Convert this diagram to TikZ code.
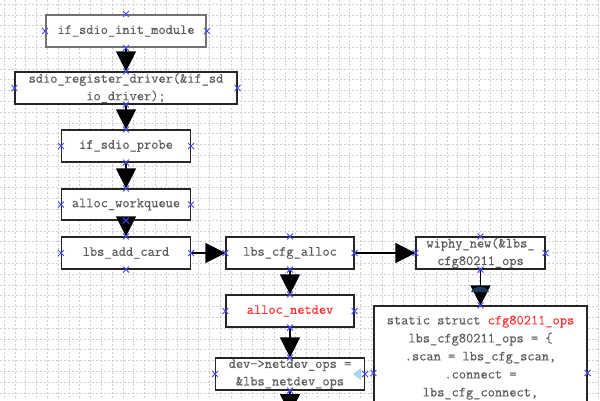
\documentclass[tikz,border=0pt]{standalone}
\usepackage{fontspec}
\newfontface\boxfont{Latin Modern Mono}[FakeBold=0.3]
\usetikzlibrary{arrows.meta,shapes.misc}

\definecolor{boxtext}{HTML}{5C5C5C}
\definecolor{hilite}{HTML}{FF3030}
\definecolor{gridgray}{HTML}{CDCDCD}
\definecolor{markblue}{HTML}{4646FF}
\definecolor{capnavy}{HTML}{1C3A5E}
\definecolor{tipblue}{HTML}{A8D4F5}

\tikzset{
  fbox/.style={draw=black!85, line width=1.2bp, fill=white, text=boxtext,
    font=\fontsize{14bp}{17.5bp}\boxfont, align=center,
    inner sep=0pt, minimum height=32bp},
  flow/.style={draw=black, line width=1.2bp, -{Triangle[length=20bp,width=20bp]}},
  xmark/.style={cross out, draw=markblue, line width=0.9bp, minimum size=5bp, inner sep=0pt},
  gridline/.style={gridgray, line width=0.6bp, dash pattern=on 2bp off 2bp},
}

\begin{document}
\begin{tikzpicture}[x=1bp, y=-1bp]
    \clip (0,0) rectangle (600,400);
    \fill[white] (0,0) rectangle (600,400);

    % background grid
    \foreach \i in {0,...,55} {
        \draw[gridline] ({4+10.8*\i},0) -- ({4+10.8*\i},400);
    }
    \foreach \j in {0,...,37} {
        \draw[gridline] (0,{4+10.8*\j}) -- (600,{4+10.8*\j});
    }

    % call chain, left column
    \node[fbox, draw=black!55, line width=2bp, minimum width=160bp] (b1) at (126,31) {if\_sdio\_init\_module};
    \node[fbox, minimum width=222bp] (b2) at (126,88) {sdio\_register\_driver(\&if\_sd\\io\_driver);};
    \node[fbox, minimum width=129bp] (b3) at (126,146) {if\_sdio\_probe};
    \node[fbox, minimum width=129bp, minimum height=31bp] (b4) at (126,204.5) {alloc\_workqueue};
    \node[fbox, minimum width=129bp] (b5) at (126,253) {lbs\_add\_card};

    % middle column
    \node[fbox, minimum width=128bp] (b6) at (290,253) {lbs\_cfg\_alloc};
    \node[fbox, minimum width=128bp, text=hilite] (b8) at (290,311) {alloc\_netdev};
    \node[fbox, minimum width=149bp] (b9) at (290,374) {dev->netdev\_ops =\\\&lbs\_netdev\_ops};
    \coordinate (below9) at (290,414);

    % right column
    \node[fbox, minimum width=129bp] (b7) at (480.5,253) {wiphy\_new(\&lbs\_\\cfg80211\_ops};
    \node[fbox, minimum width=213bp, minimum height=134bp] (b10) at (480.5,373) {};
    \node[text=boxtext, font=\fontsize{14bp}{18bp}\boxfont, align=center,
          inner sep=0pt, anchor=north] (b10txt) at (480.5,315.5)
        {static struct \textcolor{hilite}{cfg80211\_ops}\\
         lbs\_cfg80211\_ops = \{\\
         .scan = lbs\_cfg\_scan,\\
         .connect =\\
         lbs\_cfg\_connect,};

    \draw[flow] (b1) -- (b2);
    \draw[flow] (b2) -- (b3);
    \draw[flow] (b3) -- (b4);
    \draw[flow] (b4) -- (b5);
    \draw[flow] (b5) -- (b6);
    \draw[flow] (b6) -- (b7);
    \draw[flow] (b6) -- (b8);
    \draw[flow] (b8) -- (b9);
    \draw[flow] (b9) -- (below9);
    \draw[flow] (b7) -- (b10);

    % leftover tips of the editor
    \fill[capnavy] (471,292) .. controls (474,285) and (486,285) .. (489,292) -- cycle;
    \fill[tipblue] (353,374) -- (361,368) -- (361,380) -- cycle;

    % connection points
    \foreach \b in {b1,b2,b3,b4,b5,b6,b7,b8,b9,b10} {
        \foreach \a in {north,south,east,west} {
            \node[xmark] (\b-\a) at (\b.\a) {};
        }
    }
\end{tikzpicture}
\end{document}
